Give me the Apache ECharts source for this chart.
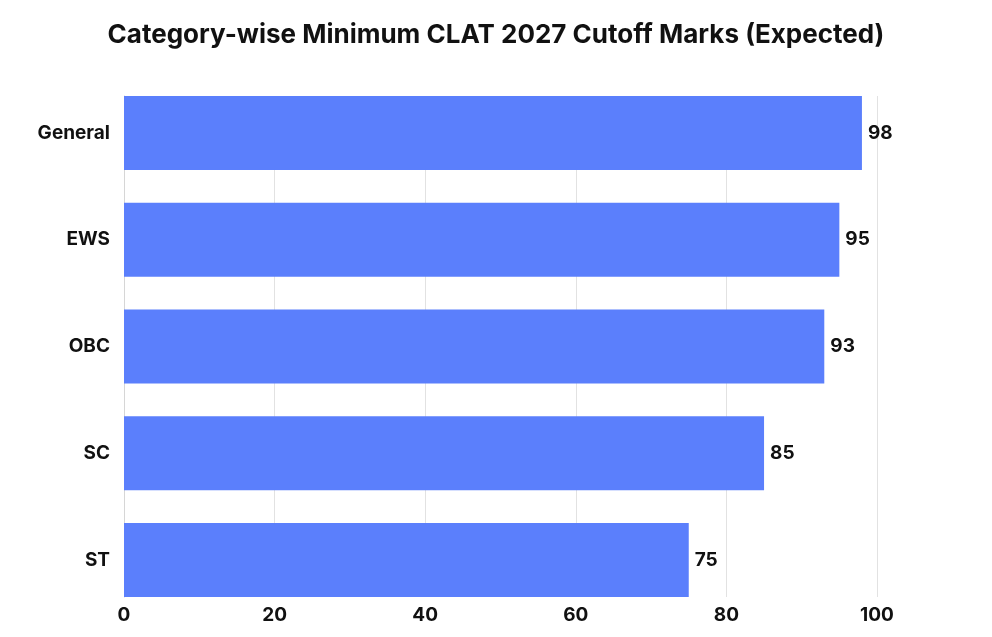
<!DOCTYPE html>
<html><head><meta charset="utf-8">
<script src="https://cdn.jsdelivr.net/npm/echarts@6/dist/echarts.min.js"></script>
<style>html,body{margin:0;padding:0;background:#fff}#c{width:992px;height:637px}</style>
</head><body><div id="c"></div>
<script>
const categories = ['General', 'EWS', 'OBC', 'SC', 'ST'];
const cutoffMarks = [98, 95, 93, 85, 75];
const xTicks = [0, 20, 40, 60, 80, 100];

const FONT = 'Inter';
const chart = echarts.init(document.getElementById('c'));
chart.setOption({
  backgroundColor: '#fff',
  animation: false,
  title: {
    text: 'Category-wise Minimum CLAT 2027 Cutoff Marks (Expected)',
    left: 'center', top: 17,
    textStyle: { fontFamily: FONT, fontWeight: 'bold', fontSize: 26, color: '#111' }
  },
  grid: [
    { left: 124, right: 115, top: 96, height: 501 },
    { left: 124, right: 115, top: 79.6, height: 533.75 }
  ],
  xAxis: [
    { gridIndex: 0, type: 'value', min: xTicks[0], max: xTicks[xTicks.length - 1], interval: 20,
      axisLine: { show: false }, axisTick: { show: false },
      splitLine: { show: true, lineStyle: { color: '#e2e2e2', width: 1 } },
      axisLabel: { margin: 9, fontFamily: FONT, fontWeight: 'bold', fontSize: 19, color: '#111' } },
    { gridIndex: 1, type: 'value', min: 0, max: 100, show: false }
  ],
  yAxis: [
    { gridIndex: 0, type: 'value', min: 0, max: 1,
      axisLine: { show: true, lineStyle: { color: '#d6d6d6', width: 1 } },
      axisTick: { show: false }, axisLabel: { show: false }, splitLine: { show: false } },
    { gridIndex: 1, type: 'category', data: categories, inverse: true,
      axisLine: { show: false }, axisTick: { show: false }, splitLine: { show: false },
      axisLabel: { margin: 14, fontFamily: FONT, fontWeight: 'bold', fontSize: 19, color: '#111', padding: [4, 0, 0, 0] } }
  ],
  series: [{
    type: 'bar', xAxisIndex: 1, yAxisIndex: 1,
    data: cutoffMarks, barWidth: 74,
    itemStyle: { color: '#5b7ffc' },
    label: { show: true, position: 'right', distance: 6, fontFamily: FONT, fontWeight: 'bold', fontSize: 19, color: '#111', padding: [4, 0, 0, 0] }
  }]
});
</script></body></html>
